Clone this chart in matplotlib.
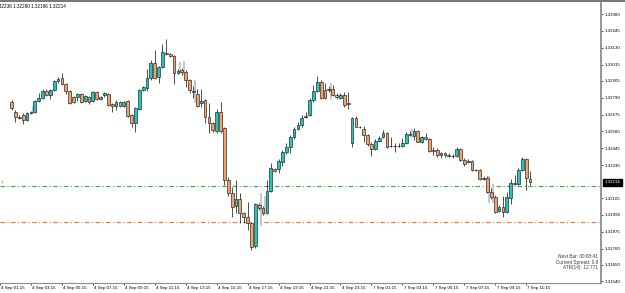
import numpy as np
import matplotlib
matplotlib.use("Agg")
import matplotlib.pyplot as plt
import matplotlib.transforms as mtransforms
from matplotlib.patches import Rectangle

# M15 candles, 4 Sep 02:00 -> 7 Sep 11:30 (weekend gap after bar 87)
opens = [
    1.32760, 1.32692, 1.32658, 1.32672, 1.32637, 1.32685, 1.32692, 1.32767, 1.32787, 1.32835,
    1.32808, 1.32842, 1.32903, 1.32924, 1.32883, 1.32835, 1.32794, 1.32794, 1.32815, 1.32767,
    1.32794, 1.32767, 1.32828, 1.32781, 1.32808, 1.32815, 1.32747, 1.32733, 1.32760, 1.32733,
    1.32767, 1.32672, 1.32617, 1.32713, 1.32842, 1.32856, 1.32924, 1.33026, 1.32931, 1.32999,
    1.33094, 1.33087, 1.33074, 1.32958, 1.32978, 1.32965, 1.32910, 1.32835, 1.32815, 1.32753,
    1.32774, 1.32658, 1.32617, 1.32563, 1.32692, 1.32583, 1.32229, 1.32140, 1.32051, 1.32099,
    1.32004, 1.31976, 1.31935, 1.31779, 1.32058, 1.32038, 1.32004, 1.32154, 1.32304, 1.32304,
    1.32351, 1.32419, 1.32454, 1.32522, 1.32576, 1.32603, 1.32658, 1.32672, 1.32774, 1.32835,
    1.32897, 1.32842, 1.32842, 1.32849, 1.32808, 1.32787, 1.32808, 1.32753, 1.32481, 1.32651,
    1.32592, 1.32576, 1.32535, 1.32474, 1.32440, 1.32494, 1.32522, 1.32549, 1.32460, 1.32460,
    1.32460, 1.32460, 1.32481, 1.32542, 1.32528, 1.32563, 1.32488, 1.32522, 1.32508, 1.32433,
    1.32433, 1.32399, 1.32413, 1.32399, 1.32392, 1.32392, 1.32440, 1.32365, 1.32351, 1.32358,
    1.32297, 1.32297, 1.32235, 1.32242, 1.32147, 1.32113, 1.32017, 1.32045, 1.32010, 1.32106,
    1.32208, 1.32201, 1.32297, 1.32372, 1.32236,
]
highs = [
    1.32774, 1.32706, 1.32672, 1.32685, 1.32692, 1.32699, 1.32774, 1.32822, 1.32849, 1.32849,
    1.32849, 1.32910, 1.32931, 1.32958, 1.32890, 1.32842, 1.32801, 1.32822, 1.32822, 1.32808,
    1.32801, 1.32835, 1.32835, 1.32801, 1.32828, 1.32822, 1.32753, 1.32774, 1.32767, 1.32767,
    1.32774, 1.32678, 1.32726, 1.32849, 1.32869, 1.32985, 1.33046, 1.33115, 1.33006, 1.33156,
    1.33190, 1.33094, 1.33081, 1.32985, 1.32992, 1.32978, 1.32917, 1.32869, 1.32849, 1.32849,
    1.32781, 1.32753, 1.32624, 1.32713, 1.32760, 1.32590, 1.32249, 1.32181, 1.32229, 1.32140,
    1.32010, 1.32079, 1.31942, 1.32072, 1.32072, 1.32051, 1.32229, 1.32344, 1.32310, 1.32372,
    1.32433, 1.32481, 1.32535, 1.32590, 1.32624, 1.32672, 1.32692, 1.32787, 1.32876, 1.32937,
    1.32910, 1.32890, 1.32869, 1.32876, 1.32822, 1.32822, 1.32828, 1.32828, 1.32658, 1.32665,
    1.32597, 1.32597, 1.32542, 1.32488, 1.32508, 1.32528, 1.32569, 1.32556, 1.32522, 1.32481,
    1.32481, 1.32515, 1.32556, 1.32563, 1.32583, 1.32569, 1.32528, 1.32549, 1.32515, 1.32454,
    1.32447, 1.32419, 1.32419, 1.32413, 1.32406, 1.32454, 1.32447, 1.32378, 1.32372, 1.32365,
    1.32304, 1.32304, 1.32256, 1.32256, 1.32174, 1.32126, 1.32058, 1.32120, 1.32147, 1.32235,
    1.32263, 1.32310, 1.32385, 1.32378, 1.32290,
]
lows = [
    1.32706, 1.32624, 1.32644, 1.32610, 1.32631, 1.32678, 1.32685, 1.32760, 1.32781, 1.32801,
    1.32781, 1.32835, 1.32890, 1.32876, 1.32815, 1.32747, 1.32753, 1.32767, 1.32753, 1.32760,
    1.32747, 1.32760, 1.32774, 1.32774, 1.32794, 1.32733, 1.32692, 1.32706, 1.32726, 1.32726,
    1.32658, 1.32590, 1.32556, 1.32706, 1.32835, 1.32835, 1.32910, 1.32917, 1.32890, 1.32992,
    1.33081, 1.33067, 1.32883, 1.32951, 1.32944, 1.32862, 1.32822, 1.32787, 1.32726, 1.32726,
    1.32617, 1.32549, 1.32556, 1.32549, 1.32549, 1.32194, 1.32120, 1.31976, 1.32004, 1.31935,
    1.31935, 1.31888, 1.31751, 1.31765, 1.32024, 1.31990, 1.31997, 1.32147, 1.32283, 1.32276,
    1.32324, 1.32406, 1.32413, 1.32508, 1.32569, 1.32590, 1.32651, 1.32665, 1.32760, 1.32828,
    1.32781, 1.32781, 1.32828, 1.32801, 1.32781, 1.32781, 1.32726, 1.32713, 1.32454, 1.32590,
    1.32583, 1.32488, 1.32460, 1.32392, 1.32433, 1.32488, 1.32515, 1.32447, 1.32454, 1.32419,
    1.32454, 1.32454, 1.32474, 1.32528, 1.32501, 1.32488, 1.32481, 1.32501, 1.32419, 1.32399,
    1.32385, 1.32378, 1.32385, 1.32385, 1.32378, 1.32385, 1.32358, 1.32324, 1.32344, 1.32290,
    1.32290, 1.32229, 1.32229, 1.32140, 1.32099, 1.32004, 1.32010, 1.31976, 1.32004, 1.32065,
    1.32194, 1.32194, 1.32290, 1.32160, 1.32196,
]
closes = [
    1.32719, 1.32658, 1.32651, 1.32637, 1.32685, 1.32692, 1.32767, 1.32787, 1.32835, 1.32808,
    1.32842, 1.32903, 1.32917, 1.32883, 1.32835, 1.32753, 1.32760, 1.32815, 1.32760, 1.32801,
    1.32760, 1.32828, 1.32781, 1.32794, 1.32822, 1.32740, 1.32733, 1.32760, 1.32733, 1.32760,
    1.32665, 1.32617, 1.32719, 1.32842, 1.32862, 1.32924, 1.33026, 1.32924, 1.32999, 1.33101,
    1.33087, 1.33074, 1.32958, 1.32972, 1.32965, 1.32910, 1.32842, 1.32828, 1.32733, 1.32767,
    1.32658, 1.32617, 1.32569, 1.32692, 1.32563, 1.32229, 1.32140, 1.32045, 1.32099, 1.32004,
    1.31976, 1.31935, 1.31772, 1.32065, 1.32038, 1.32004, 1.32154, 1.32310, 1.32290, 1.32358,
    1.32419, 1.32454, 1.32522, 1.32576, 1.32603, 1.32651, 1.32665, 1.32774, 1.32835, 1.32897,
    1.32787, 1.32787, 1.32849, 1.32808, 1.32794, 1.32808, 1.32740, 1.32747, 1.32651, 1.32590,
    1.32588, 1.32535, 1.32474, 1.32440, 1.32494, 1.32515, 1.32549, 1.32454, 1.32458, 1.32458,
    1.32458, 1.32481, 1.32542, 1.32535, 1.32563, 1.32490, 1.32522, 1.32508, 1.32426, 1.32426,
    1.32399, 1.32413, 1.32399, 1.32392, 1.32390, 1.32440, 1.32365, 1.32338, 1.32358, 1.32297,
    1.32295, 1.32235, 1.32242, 1.32147, 1.32113, 1.32010, 1.32045, 1.32010, 1.32113, 1.32208,
    1.32201, 1.32297, 1.32372, 1.32242, 1.32214,
]

# grey shadow bars seen behind some candles
ghost_bar = [5, 25, 43, 44, 47, 64, 65, 82, 103, 123, 124]
ghost_hi = [1.32733, 1.32808, 1.33033, 1.33040, 1.32910, 1.32140, 1.32120, 1.32890, 1.32576, 1.32256, 1.32201]
ghost_lo = [1.32678, 1.32733, 1.32951, 1.32944, 1.32753, 1.31915, 1.31990, 1.32774, 1.32515, 1.32072, 1.32072]

green_level = 1.32188
orange_level = 1.31942
last_price = 1.32214

y_ticks = [1.33360, 1.33245, 1.33130, 1.33015, 1.32905, 1.32790, 1.32675, 1.32560,
           1.32445, 1.32330, 1.32105, 1.31990, 1.31875, 1.31760, 1.31650, 1.31540]
time_labels = ["4 Sep 01:15", "4 Sep 03:15", "4 Sep 05:15", "4 Sep 07:15", "4 Sep 09:15",
               "4 Sep 11:15", "4 Sep 13:15", "4 Sep 15:15", "4 Sep 17:15", "4 Sep 19:15",
               "4 Sep 21:15", "4 Sep 23:15", "7 Sep 01:15", "7 Sep 03:15", "7 Sep 05:15",
               "7 Sep 07:15", "7 Sep 09:15", "7 Sep 11:15"]
time_bar = list(range(-3, 134, 8))  # bar index of each label (bar 0 = 4 Sep 02:00)

info_lines = ["Next Bar: 00:08:41", "Current Spread: 0.9", "ATR(14): 12.771"]

plt.rcParams['font.family'] = ['Liberation Sans', 'DejaVu Sans']
plt.rcParams['lines.scale_dashes'] = False

W, H = 625, 293
fig = plt.figure(figsize=(W / 100, H / 100), dpi=100)
ax = fig.add_axes([0, 10 / H, 601 / W, 280 / H])

o, h, l, c = (np.array(a) for a in (opens, highs, lows, closes))
x = np.arange(len(o))
bull, bear, edge = '#1dc8be', '#f3a06a', '#1e1e1e'

ax.vlines(np.array(ghost_bar) + 0.45, ghost_lo, ghost_hi, color='#b8b8b8', lw=1.1, zorder=1)
ax.vlines(x, l, h, color=edge, lw=0.55, zorder=2)
for i in x:
    lo_b = min(o[i], c[i])
    hgt = abs(c[i] - o[i])
    if hgt < 0.00002:
        ax.hlines(c[i], i - 0.38, i + 0.38, color=edge, lw=0.6, zorder=3)
    else:
        ax.add_patch(Rectangle((i - 0.36, lo_b), 0.72, hgt, fc=bull if c[i] > o[i] else bear,
                               ec=edge, lw=0.45, zorder=3))

ax.axhline(green_level, color='#2fae3c', lw=0.8, dashes=(3.2, 1.8, 0.8, 1.8), zorder=0)
ax.axhline(orange_level, color='#ff6e2c', lw=0.8, dashes=(3.2, 1.8, 0.8, 1.8), zorder=0)

ax.set_xlim(0.19, 152.34)
ax.set_ylim(1.315265, 1.334350)

for s in ('top', 'left'):
    ax.spines[s].set_visible(False)
ax.spines['right'].set_color('#8c8c8c')
ax.spines['right'].set_linewidth(1.3)
ax.spines['bottom'].set_color('#8c8c8c')
ax.spines['bottom'].set_linewidth(0.8)

ax.yaxis.tick_right()
ax.set_yticks(y_ticks, [f'{v:.5f}' for v in y_ticks])
ax.tick_params(axis='y', length=1.5, width=0.6, pad=1.4, labelsize=3.2, color='#333333')
ax.set_xticks(time_bar, time_labels)
ax.tick_params(axis='x', length=1.5, width=0.6, pad=0.3, labelsize=3.2, color='#333333')
shift = mtransforms.ScaledTranslation(1.3 / 100, 0, fig.dpi_scale_trans)
for lab in ax.get_xticklabels():
    lab.set_ha('left')
    lab.set_transform(lab.get_transform() + shift)

ax.annotate(f'{last_price:.5f}', xy=(1.0, last_price), xycoords=('axes fraction', 'data'),
            xytext=(2.6, 0), textcoords='offset points', fontsize=3.2, color='white',
            va='center', ha='left',
            bbox=dict(boxstyle='square,pad=0.35', fc='black', ec='black'))

fig.patches.append(Rectangle((0, 1 - 2 / H), 1, 2 / H, transform=fig.transFigure,
                             fc='#7a7a7a', ec='none'))
fig.text(-5 / W, 1 - 6 / H, '1.32236 1.32290 1.32196 1.32214', fontsize=3.3, va='center', ha='left')
fig.text(0.3 / W, 1 - 183.5 / H, '7', fontsize=3.2, color='#555555', va='center', ha='left')

for k, t in enumerate(info_lines):
    fig.text(598 / W, 1 - (257 + 5.2 * k) / H, t, fontsize=3.4, color='#3a3a3a',
             va='center', ha='right')

fig.savefig('out.png', dpi=100)
